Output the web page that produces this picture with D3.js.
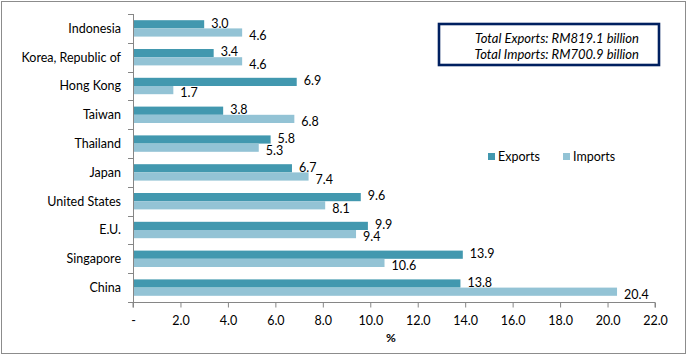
<!DOCTYPE html>
<html><head><meta charset="utf-8">
<script src="https://cdn.jsdelivr.net/npm/d3@7"></script>
<style>body{margin:0;background:#fff}svg{display:block}text{font-family:Lato,"Open Sans",sans-serif}</style>
</head><body><svg id="c" width="687" height="356"></svg>
<script>
const categories = ["Indonesia","Korea, Republic of","Hong Kong","Taiwan","Thailand","Japan","United States","E.U.","Singapore","China"];
const exportsVals = [3.0,3.4,6.9,3.8,5.8,6.7,9.6,9.9,13.9,13.8];
const importsVals = [4.6,4.6,1.7,6.8,5.3,7.4,8.1,9.4,10.6,20.4];
const xTicks = [0,2,4,6,8,10,12,14,16,18,20,22];
const seriesNames = ["Exports","Imports"];
const noteLines = ["Total Exports: RM819.1 billion","Total Imports: RM700.9 billion"];

(function(){
const colors = ["#4298AF","#93C3D5"];
const svg = d3.select("#c");
svg.append("rect").attr("x",1.5).attr("y",1.5).attr("width",684).attr("height",352).attr("fill","#fff").attr("stroke","#8c8c8c");

const pLeft=133,pRight=655,pTop=14,pBottom=302;
const x = d3.scaleLinear().domain([0,22]).range([pLeft,pRight]);
const y = d3.scaleBand().domain(categories).range([pTop,pBottom]);
const barH = 8.2;

const g = svg.append("g");
categories.forEach((c,i)=>{
  const cy = y(c)+y.bandwidth()/2;
  [exportsVals[i],importsVals[i]].forEach((v,k)=>{
    const by = cy - barH + k*barH;
    g.append("rect").attr("x",x(0)).attr("y",by).attr("width",x(v)-x(0)).attr("height",barH).attr("fill",colors[k]);
    g.append("text").attr("x",x(v)+7).attr("y",by+barH/2+(k===0?-1:3)).attr("dy","0.35em")
      .attr("font-size",12.5).attr("fill","#000").text(v.toFixed(1));
  });
});

const ya = svg.append("g");
ya.append("line").attr("x1",pLeft+0.5).attr("x2",pLeft+0.5).attr("y1",pTop).attr("y2",pBottom).attr("stroke","#868686");
d3.range(categories.length+1).forEach(i=>{
  const yy = Math.round(pTop+i*y.step())+0.5;
  ya.append("line").attr("x1",pLeft-5).attr("x2",pLeft).attr("y1",yy).attr("y2",yy).attr("stroke","#868686");
});
categories.forEach(c=>{
  ya.append("text").attr("x",121).attr("y",y(c)+y.bandwidth()/2).attr("dy","0.35em").attr("text-anchor","end")
    .attr("font-size",12.5).attr("fill","#000").text(c);
});

const xa = svg.append("g").attr("transform",`translate(0,${pBottom+0.5})`)
  .call(d3.axisBottom(x).tickValues(xTicks).tickSize(5).tickPadding(9).tickFormat(d=>d===0?"-":d.toFixed(1)));
xa.select(".domain").attr("stroke","#868686").attr("d",`M${pLeft},5V0H${pRight}V5`);
xa.selectAll(".tick line").attr("stroke","#868686");
xa.selectAll(".tick text").attr("font-size",12.5).attr("fill","#000").attr("font-family","Lato,sans-serif");
svg.append("text").attr("x",391).attr("y",338).attr("dy","0.35em").attr("text-anchor","middle").attr("font-size",12).attr("font-weight","bold").text("%");

seriesNames.forEach((s,k)=>{
  const lx = [488,563][k];
  svg.append("rect").attr("x",lx).attr("y",153).attr("width",7).attr("height",7).attr("fill",colors[k]);
  svg.append("text").attr("x",lx+10).attr("y",157).attr("dy","0.35em").attr("font-size",12.5).text(s);
});

svg.append("rect").attr("x",439).attr("y",24).attr("width",220).attr("height",41).attr("fill","#fff").attr("stroke","#002060").attr("stroke-width",2.6);
noteLines.forEach((t,i)=>{
  svg.append("text").attr("x",639).attr("y",38+i*16).attr("dy","0.35em").attr("text-anchor","end")
    .attr("font-size",13).attr("font-style","italic").text(t);
});
})();
</script></body></html>
